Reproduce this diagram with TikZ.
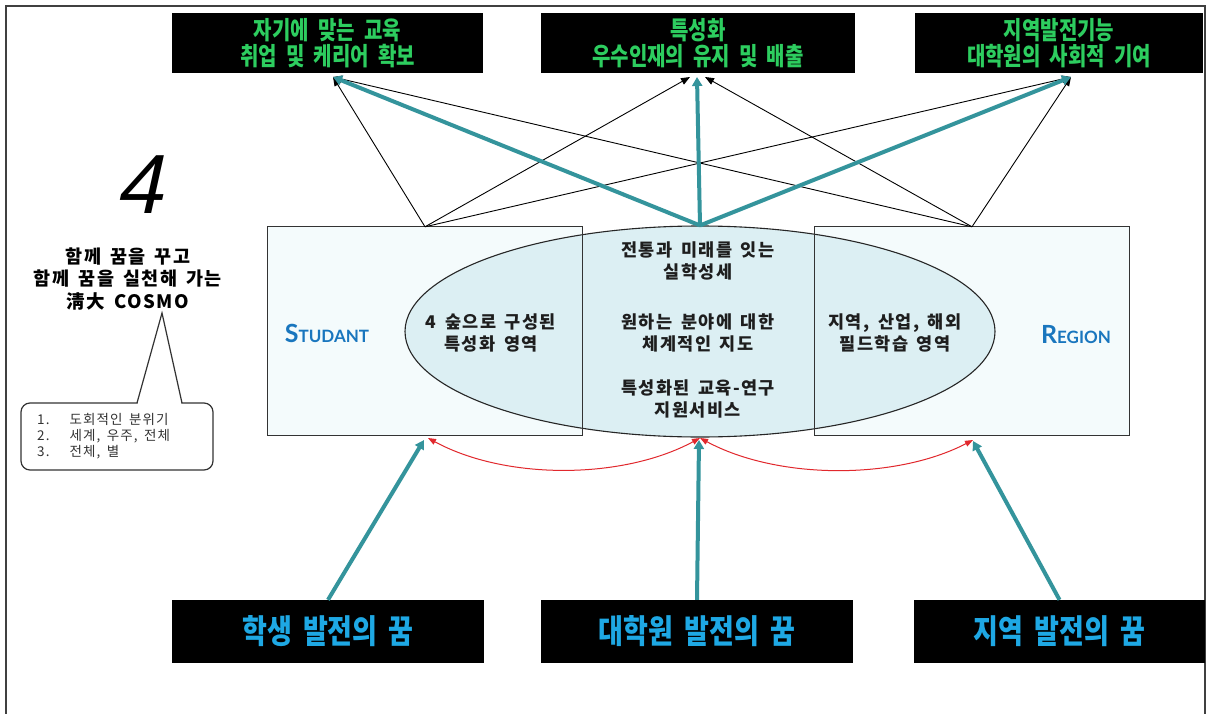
\documentclass[tikz,border=0pt]{standalone}
\usepackage{fontspec}
\setmainfont{Noto Sans CJK KR}
\newfontfamily\krsp{Noto Sans CJK KR}[LetterSpace=8, WordSpace=1.6]
\newfontfamily\condtop{Noto Sans CJK KR}[FakeStretch=0.8, WordSpace=2.0]
\newfontfamily\condbot{Noto Sans CJK KR}[FakeStretch=0.82, WordSpace=1.8]
\newfontfamily\latofont{Lato}
\newfontfamily\fourfont{Liberation Sans}[FakeSlant=0.22]
\usetikzlibrary{shapes.geometric,arrows.meta,calc}
\definecolor{tealc}{RGB}{52,148,156}
\definecolor{topgreen}{RGB}{45,205,95}
\definecolor{botblue}{RGB}{30,168,228}
\definecolor{boxfill}{RGB}{244,251,252}
\definecolor{ellfill}{RGB}{220,239,243}
\definecolor{capblue}{RGB}{25,118,190}
\definecolor{redc}{RGB}{225,40,45}
\definecolor{txtc}{RGB}{30,30,30}
\begin{document}
\begin{tikzpicture}[x=1pt,y=-1pt,
  topbox/.style={fill=black, inner sep=0pt, minimum height=60pt, align=center,
    text=topgreen, font={\condtop\bfseries\fontsize{25}{26.5}\selectfont}},
  botbox/.style={fill=black, inner sep=0pt, minimum height=63pt, align=center,
    text=botblue, font={\condbot\bfseries\fontsize{33}{33}\selectfont}},
  sidebox/.style={fill=boxfill, inner sep=0pt, minimum width=314pt, minimum height=208pt},
  boxline/.style={draw=black!80, line width=1.3pt},
  elltext/.style={align=center, text=txtc, font={\krsp\bfseries\fontsize{17.5}{22}\selectfont}},
  caplbl/.style={text=capblue, font=\latofont\bfseries},
  thinarr/.style={draw=black, line width=0.9pt, -{Triangle[length=9pt,width=7pt]}},
  tealarr/.style={draw=tealc, line width=4pt, -{Triangle[length=9pt,width=10pt]}},
  redarr/.style={draw=redc, line width=1pt, {Triangle[length=8pt,width=6pt]}-{Triangle[length=8pt,width=6pt]}}
]
\useasboundingbox (0,0) rectangle (1209,714);
\fill[white] (0,0) rectangle (1209,714);
% outer frame
\draw[line width=1.3pt, draw=black!75] (6,714) -- (6,6) -- (1205,6) -- (1205,714);

% top boxes
\node[topbox, minimum width=311pt] (t1) at (327.5,43) {자기에 맞는 교육\\취업 및 케리어 확보};
\node[topbox, minimum width=314pt] (t2) at (698,43) {특성화\\우수인재의 유지 및 배출};
\node[topbox, minimum width=288pt] (t3) at (1059,43) {지역발전기능\\대학원의 사회적 기여};

% side boxes and ellipse
\node[sidebox] (boxL) at (425,331) {};
\node[sidebox] (boxR) at (972,331) {};
\node[ellipse, fill=ellfill, draw=black!85, line width=1.1pt, inner sep=0pt,
      minimum width=590pt, minimum height=211pt] (ell) at (700,331.5) {};
\draw[boxline] (boxL.south west) rectangle (boxL.north east);
\draw[boxline] (boxR.south west) rectangle (boxR.north east);

% texts in boxes / ellipse
\node[caplbl] (stud) at (327,333) {{\fontsize{25}{25}\selectfont S}\fontsize{17}{17}\selectfont TUDANT};
\node[caplbl] (reg) at (1076,335) {{\fontsize{25}{25}\selectfont R}\fontsize{17}{17}\selectfont EGION};
\node[elltext] (e1) at (698,261) {전통과 미래를 잇는\\실학성세};
\node[elltext] (e2) at (698,333) {원하는 분야에 대한\\체계적인 지도};
\node[elltext] (e3) at (698,399) {특성화된 교육-연구\\지원서비스};
\node[elltext] (e4) at (491,333) {4 숲으로 구성된\\특성화 영역};
\node[elltext] (e5) at (895,333) {지역, 산업, 해외\\필드학습 영역};

% arrow target coordinates at top boxes
\coordinate (a1) at (333,77);
\coordinate (a2l) at (690,77);
\coordinate (a2m) at (697,77);
\coordinate (a2r) at (705,77);
\coordinate (a3) at (1071,77);

% thin black connectors
\draw[thinarr] (boxL.north) -- (a1);
\draw[thinarr] (boxL.north) -- (a2l);
\draw[thinarr] (boxL.north) -- (a3);
\draw[thinarr] (boxR.north) -- (a1);
\draw[thinarr] (boxR.north) -- (a2r);
\draw[thinarr] (boxR.north) -- (a3);
% thick teal connectors
\draw[tealarr] (ell.north) -- (a1);
\draw[tealarr] (ell.north) -- (a2m);
\draw[tealarr] (ell.north) -- (a3);

% bottom boxes
\node[botbox, minimum width=312pt] (b1) at (328,631.5) {학생 발전의 꿈};
\node[botbox, minimum width=312pt] (b2) at (697,631.5) {대학원 발전의 꿈};
\node[botbox, minimum width=291pt] (b3) at (1059.5,631.5) {지역 발전의 꿈};

\coordinate (uL) at (424,440);
\coordinate (uM) at (699,440);
\coordinate (uR) at (973,441);
\draw[tealarr] (b1.north) -- (uL);
\draw[tealarr] (b2.north) -- (uM);
\draw[tealarr] (b3.north) -- (uR);

% red curved arrows
\coordinate (rL) at (428,438);
\coordinate (rM) at (700,438);
\coordinate (rR) at (973,440);
\draw[redarr] (rL) .. controls (505,480) and (622,480) .. (rM);
\draw[redarr] (rM) .. controls (778,480) and (896,480) .. (rR);

% left side
\node (four) at (139,185) {\fourfont\fontsize{84}{84}\selectfont 4};
\node[align=center, text=black, font={\krsp\bfseries\fontsize{18.5}{22.5}\selectfont}] (motto) at (128,279)
  {함께 꿈을 꾸고\\함께 꿈을 실천해 가는\\淸大 COSMO};
\node[draw=black!80, line width=1.2pt, rounded corners=9pt, fill=white,
      minimum width=192pt, minimum height=67pt, inner sep=0pt] (call) at (117,436.5) {};
\fill[white] (137.5,404.5) -- (162,313) -- (181.5,404.5) -- cycle;
\draw[draw=black!80, line width=1.2pt, line join=miter] (137,403) -- (162,313) -- (182,403);
\node[anchor=west, align=left, text=black!80, font={\krsp\fontsize{13.5}{16}\selectfont}, inner sep=0pt] (calltxt) at (37,437)
  {\begin{tabular}{@{}l@{\hspace{20pt}}l@{}}1.&도회적인 분위기\\2.&세계, 우주, 전체\\3.&전체, 별\end{tabular}};
\end{tikzpicture}
\end{document}
